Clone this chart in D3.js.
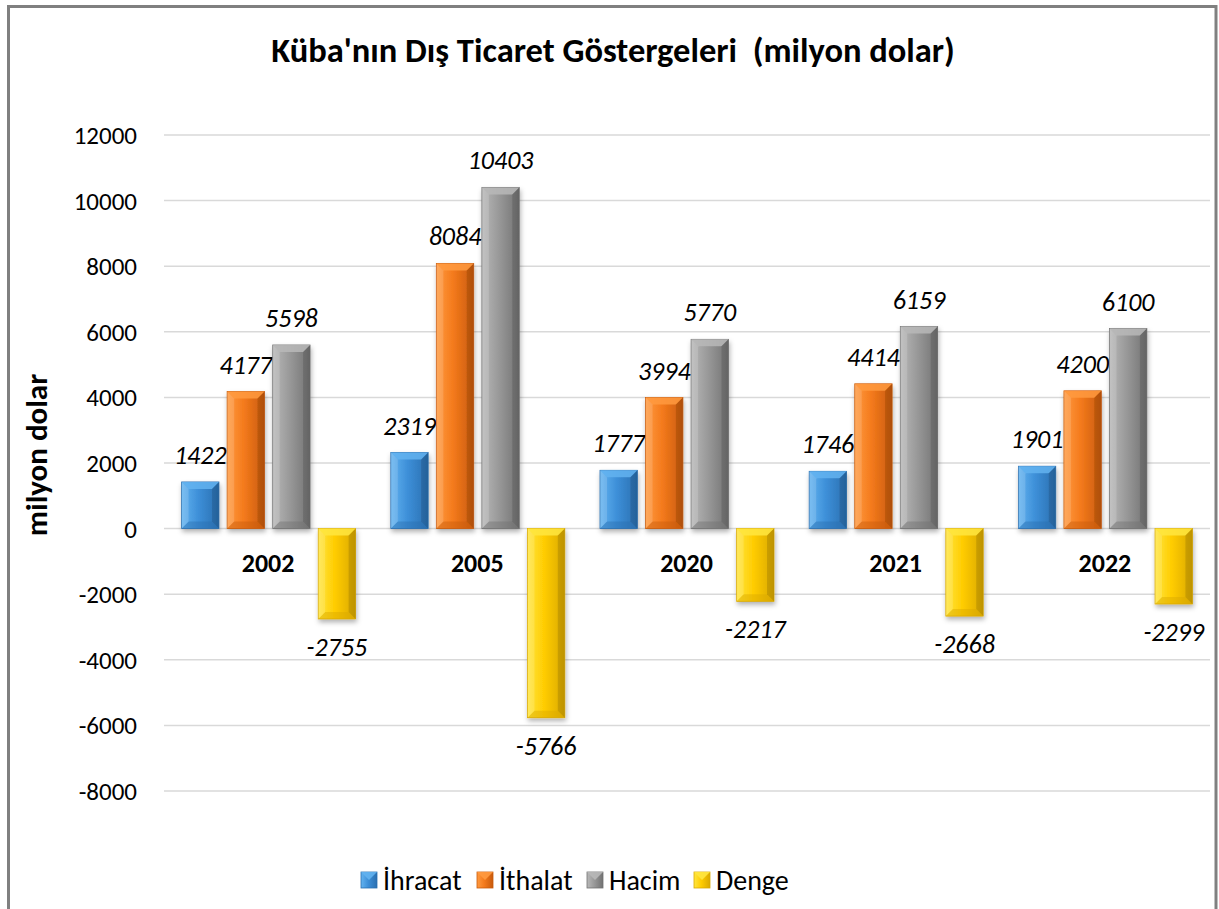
<!DOCTYPE html>
<html>
<head>
<meta charset="utf-8">
<script src="https://cdn.jsdelivr.net/npm/d3@7"></script>
<style>
  body { margin: 0; background: #fff; }
  svg { display: block; font-family: Carlito, Lato, "Open Sans", sans-serif; }
</style>
</head>
<body>
<div id="chart"></div>
<script>
const years = ["2002", "2005", "2020", "2021", "2022"];
const seriesNames = ["İhracat", "İthalat", "Hacim", "Denge"];
const ihracat = [1422, 2319, 1777, 1746, 1901];
const ithalat = [4177, 8084, 3994, 4414, 4200];
const hacim = [5598, 10403, 5770, 6159, 6100];
const denge = [-2755, -5766, -2217, -2668, -2299];
const yTicks = [12000, 10000, 8000, 6000, 4000, 2000, 0, -2000, -4000, -6000, -8000];

const seriesValues = [ihracat, ithalat, hacim, denge];
const COLORS = [
  { light: "#63b3f0", mid: "#3d8fd8", dark: "#2a6fb0" },
  { light: "#ff9a40", mid: "#f47a1c", dark: "#c85a0c" },
  { light: "#b8b8b8", mid: "#999999", dark: "#727272" },
  { light: "#ffe640", mid: "#ffcc00", dark: "#d9a800" },
];

const width = 1219, height = 909;
const margin = { left: 164, right: 9, top: 135, bottom: 118 };

const svg = d3.select("#chart").append("svg")
  .attr("width", width).attr("height", height);

const defs = svg.append("defs");
COLORS.forEach((c, i) => {
  const g = defs.append("linearGradient").attr("id", "grad" + i)
    .attr("x1", 0).attr("x2", 1).attr("y1", 0).attr("y2", 0);
  g.append("stop").attr("offset", "0%").attr("stop-color", c.light);
  g.append("stop").attr("offset", "45%").attr("stop-color", c.mid);
  g.append("stop").attr("offset", "100%").attr("stop-color", c.dark);
});
const shadow = defs.append("filter").attr("id", "shadow")
  .attr("x", "-30%").attr("y", "-10%").attr("width", "160%").attr("height", "130%");
shadow.append("feDropShadow").attr("dx", 1).attr("dy", 3).attr("stdDeviation", 2.5)
  .attr("flood-color", "#000").attr("flood-opacity", 0.3);

// frame
svg.append("rect")
  .attr("x", 8.5).attr("y", 6.5).attr("width", 1207.5).attr("height", 920)
  .attr("fill", "#fff").attr("stroke", "#808080").attr("stroke-width", 3);

svg.append("text")
  .attr("x", 613).attr("y", 62)
  .attr("text-anchor", "middle")
  .attr("font-size", 34.5).attr("font-weight", "bold")
  .attr("xml:space", "preserve")
  .text("Küba'nın Dış Ticaret Göstergeleri  (milyon dolar)");

const y = d3.scaleLinear().domain([-8000, 12000])
  .range([791, 135]);

const x0 = d3.scaleBand().domain(years)
  .range([margin.left, width - margin.right]).paddingInner(0).paddingOuter(0);
const x1 = d3.scaleBand().domain(d3.range(4))
  .range([0, 174]).paddingInner(0.18);
const groupOffset = (x0.bandwidth() - 174) / 2;

// grid
svg.append("g").selectAll("line").data(yTicks).join("line")
  .attr("x1", margin.left).attr("x2", 1210)
  .attr("y1", d => y(d)).attr("y2", d => y(d))
  .attr("stroke", "#d9d9d9").attr("stroke-width", 1.5);

svg.append("g").selectAll("text").data(yTicks).join("text")
  .attr("x", 137).attr("y", d => y(d) + 9)
  .attr("text-anchor", "end").attr("font-size", 25).attr("fill", "#000")
  .text(d => d);

svg.append("text")
  .attr("transform", `translate(47,455) rotate(-90)`)
  .attr("text-anchor", "middle")
  .attr("font-size", 31).attr("font-weight", "bold")
  .text("milyon dolar");

// category labels
svg.append("g").selectAll("text").data(years).join("text")
  .attr("x", d => x0(d) + x0.bandwidth() / 2 - 0.5)
  .attr("y", 572)
  .attr("text-anchor", "middle")
  .attr("font-size", 26).attr("font-weight", "bold")
  .text(d => d);

// bars
const bars = [];
years.forEach((yr, i) => {
  seriesValues.forEach((vals, s) => {
    bars.push({ year: yr, s, v: vals[i] });
  });
});

const barG = svg.append("g").selectAll("g").data(bars).join("g")
  .attr("transform", d => `translate(${x0(d.year) + groupOffset + x1(d.s)},0)`);

const bw = x1.bandwidth();
const bev = 7;

barG.each(function (d) {
  const g = d3.select(this);
  const top = y(Math.max(0, d.v));
  const bot = y(Math.min(0, d.v));
  const h = bot - top;
  const c = COLORS[d.s];
  g.append("rect")
    .attr("x", 0).attr("y", top).attr("width", bw).attr("height", h)
    .attr("fill", `url(#grad${d.s})`)
    .attr("stroke", c.dark).attr("stroke-width", 0.8)
    .attr("filter", "url(#shadow)");
  const b = Math.min(bev, h / 2);
  // top bevel
  g.append("path")
    .attr("d", `M0,${top}L${bw},${top}L${bw - b},${top + b}L${b},${top + b}Z`)
    .attr("fill", c.light).attr("opacity", 0.85);
  // bottom bevel
  g.append("path")
    .attr("d", `M0,${bot}L${bw},${bot}L${bw - b},${bot - b}L${b},${bot - b}Z`)
    .attr("fill", c.dark).attr("opacity", 0.45);
  // side bevels
  g.append("path")
    .attr("d", `M0,${top}L${b},${top + b}L${b},${bot - b}L0,${bot}Z`)
    .attr("fill", "#fff").attr("opacity", 0.15);
  g.append("path")
    .attr("d", `M${bw},${top}L${bw - b},${top + b}L${bw - b},${bot - b}L${bw},${bot}Z`)
    .attr("fill", "#000").attr("opacity", 0.12);

  g.append("text")
    .attr("x", bw / 2)
    .attr("y", d.v >= 0 ? top - 18 : bot + 37)
    .attr("text-anchor", "middle")
    .attr("font-size", 26).attr("font-style", "italic")
    .text(d.v);
});

// legend
const legendX = [361, 477, 587, 694];
const legend = svg.append("g").selectAll("g").data(seriesNames).join("g")
  .attr("transform", (d, i) => `translate(${legendX[i]},872)`);
legend.append("rect")
  .attr("width", 16).attr("height", 16)
  .attr("fill", (d, i) => `url(#grad${i})`)
  .attr("stroke", (d, i) => COLORS[i].dark).attr("stroke-width", 0.8);
legend.append("path")
  .attr("d", "M0,0L16,0L8,8Z")
  .attr("fill", (d, i) => COLORS[i].light).attr("opacity", 0.9);
legend.append("text")
  .attr("x", 22).attr("y", 18)
  .attr("font-size", 28)
  .text(d => d);
</script>
</body>
</html>
